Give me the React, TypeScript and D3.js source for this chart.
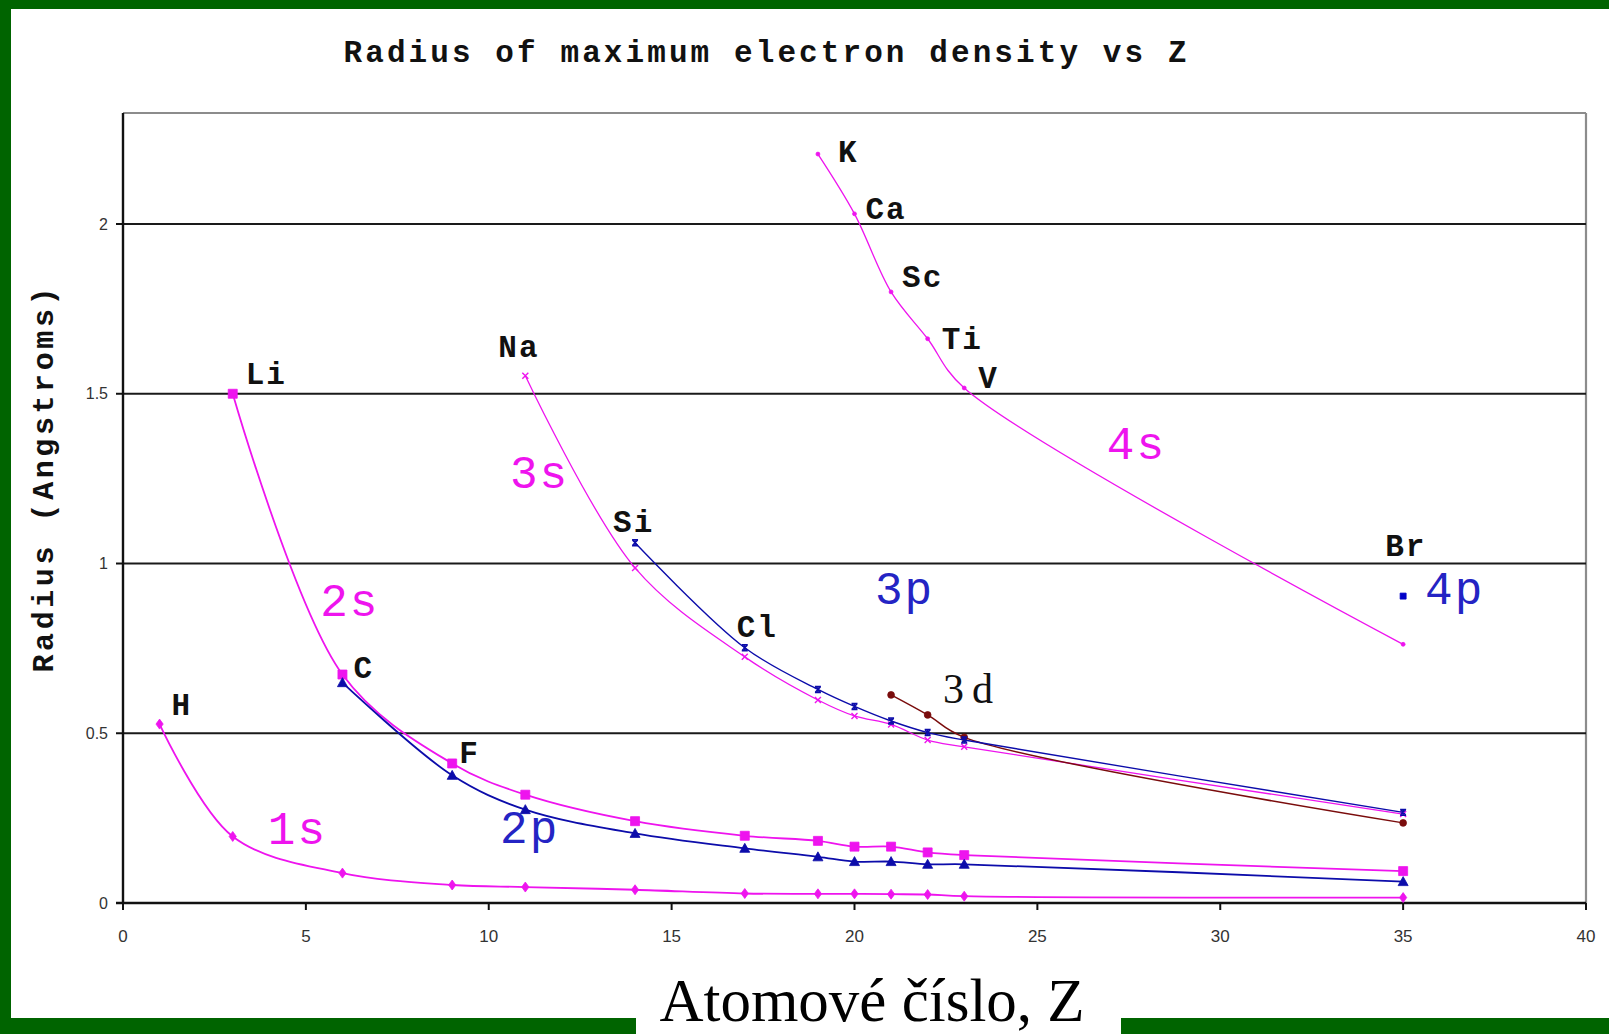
import React from "react";
import * as d3 from "d3";

// ---- chart data ----
const xTicks = [0, 5, 10, 15, 20, 25, 30, 35, 40];
const yTicks = [0, 0.5, 1, 1.5, 2];
const yGrid = [0.5, 1, 1.5, 2];

const z1s = [1, 3, 6, 9, 11, 14, 17, 19, 20, 21, 22, 23, 35];
const r1s = [0.527, 0.196, 0.088, 0.053, 0.047, 0.039, 0.028, 0.027, 0.027, 0.026, 0.025, 0.02, 0.016];

const z2s = [3, 6, 9, 11, 14, 17, 19, 20, 21, 22, 23, 35];
const r2s = [1.5, 0.673, 0.411, 0.319, 0.241, 0.198, 0.183, 0.166, 0.166, 0.149, 0.141, 0.094];

const z2p = [6, 9, 11, 14, 17, 19, 20, 21, 22, 23, 35];
const r2p = [0.649, 0.376, 0.275, 0.205, 0.161, 0.136, 0.122, 0.122, 0.114, 0.114, 0.063];

const z3s = [11, 14, 17, 19, 20, 21, 22, 23, 35];
const r3s = [1.553, 0.987, 0.725, 0.598, 0.551, 0.526, 0.48, 0.46, 0.262];

const z3p = [14, 17, 19, 20, 21, 22, 23, 35];
const r3p = [1.061, 0.752, 0.629, 0.579, 0.536, 0.502, 0.48, 0.267];

const z3d = [21, 22, 23, 35];
const r3d = [0.613, 0.554, 0.488, 0.236];

const z4s = [19, 20, 21, 22, 23, 35];
const r4s = [2.206, 2.03, 1.8, 1.662, 1.517, 0.762];

const z4p = [35];
const r4p = [0.904];

// element names, each attached to the point it marks: [name, Z, radius]
const elementNames: [string, number, number][] = [
  ["H", 1, 0.527],
  ["Li", 3, 1.5],
  ["C", 6, 0.673],
  ["F", 9, 0.411],
  ["Na", 11, 1.553],
  ["Si", 14, 1.061],
  ["Cl", 17, 0.752],
  ["K", 19, 2.206],
  ["Ca", 20, 2.03],
  ["Sc", 21, 1.8],
  ["Ti", 22, 1.662],
  ["V", 23, 1.517],
  ["Br", 35, 0.904],
];

// orbital names placed in data space: [name, Z, radius]
const orbitalNames: [string, number, number][] = [
  ["1s", 3.96, 0.174],
  ["2s", 5.39, 0.845],
  ["3s", 10.58, 1.222],
  ["2p", 10.31, 0.177],
  ["3p", 20.56, 0.88],
  ["4p", 35.6, 0.88],
  ["4s", 26.9, 1.308],
  ["3d", 22.42, 0.589],
];

// ---- styling ----
const W = 1609;
const H = 1034;
const GREEN = "#006400";
const MAGENTA = "#ee14ee";
const BLUE = "#0c0caa";
const BLUE3 = "#2424c4";
const BROWN = "#7a0c0c";

const labelOffsets: Record<string, [number, number]> = {
  H: [12, -9],
  Li: [13, -10],
  C: [11, 3],
  F: [7, 0],
  Na: [-27, -19],
  Si: [-22, -11],
  Cl: [-8, -11],
  K: [20, 8],
  Ca: [11, 5],
  Sc: [11, -5],
  Ti: [14, 10],
  V: [14, 0],
  Br: [-18, -40],
};

const orbitalColors: Record<string, string> = {
  "1s": MAGENTA,
  "2s": MAGENTA,
  "3s": MAGENTA,
  "4s": MAGENTA,
  "2p": BLUE3,
  "3p": BLUE3,
  "4p": BLUE3,
  "3d": "#111",
};

type Marker = "diamond" | "square" | "triangle" | "x" | "star" | "circle" | "dot" | "smallsquare";

const markerPath = (m: Marker): string => {
  switch (m) {
    case "diamond":
      return "M0,-5L3.6,0L0,5L-3.6,0Z";
    case "square":
      return "M-4.5,-4.5H4.5V4.5H-4.5Z";
    case "triangle":
      return "M0,-5L5,4L-5,4Z";
    case "x":
      return "M-3,-3L3,3M-3,3L3,-3";
    case "star":
      return "M-3,-3H3M-3,3H3M0,-3V3M-2.5,-2.5L2.5,2.5M-2.5,2.5L2.5,-2.5";
    case "circle":
      return d3.symbol(d3.symbolCircle, 36)() || "";
    case "dot":
      return d3.symbol(d3.symbolCircle, 12)() || "";
    case "smallsquare":
      return "M-3,-3H3V3H-3Z";
  }
};

const series = [
  { z: z1s, r: r1s, color: MAGENTA, width: 1.8, marker: "diamond" as Marker, filled: true },
  { z: z2s, r: r2s, color: MAGENTA, width: 1.8, marker: "square" as Marker, filled: true },
  { z: z2p, r: r2p, color: BLUE, width: 1.8, marker: "triangle" as Marker, filled: true },
  { z: z3s, r: r3s, color: MAGENTA, width: 1.3, marker: "x" as Marker, filled: false },
  { z: z3d, r: r3d, color: BROWN, width: 1.5, marker: "circle" as Marker, filled: true },
  { z: z3p, r: r3p, color: BLUE, width: 1.4, marker: "star" as Marker, filled: false },
  { z: z4s, r: r4s, color: MAGENTA, width: 1.3, marker: "dot" as Marker, filled: true },
  { z: z4p, r: r4p, color: "#0000c8", width: 0, marker: "smallsquare" as Marker, filled: true },
];

const MONO = "'Liberation Mono', 'DejaVu Sans Mono', monospace";
const SANS = "'Liberation Sans', Arial, sans-serif";
const SERIF = "'Liberation Serif', 'Times New Roman', serif";

export default function App() {
  const x = d3.scaleLinear().domain([0, 40]).range([123, 1586]);
  const y = d3.scaleLinear().domain([0, 2.327]).range([903, 113]);

  // centripetal Catmull-Rom keeps the smoothed curves free of loops
  const line = d3
    .line<[number, number]>()
    .x((d) => x(d[0]))
    .y((d) => y(d[1]))
    .curve(d3.curveCatmullRom.alpha(0.5));

  const [x0, x1] = x.range();
  const [y0, y1] = y.range();

  return (
    <svg
      width={W}
      height={H}
      viewBox={`0 0 ${W} ${H}`}
      style={{ position: "absolute", left: 0, top: 0, display: "block" }}
    >
      {/* slide frame */}
      <rect x={0} y={0} width={W} height={H} fill="#fff" />
      <rect x={0} y={0} width={W} height={9} fill={GREEN} />
      <rect x={0} y={0} width={11} height={H} fill={GREEN} />
      <rect x={0} y={1018} width={636} height={H - 1018} fill={GREEN} />
      <rect x={1121} y={1018} width={W - 1121} height={H - 1018} fill={GREEN} />

      {/* title */}
      <text
        x={765}
        y={62}
        textAnchor="middle"
        fontFamily={MONO}
        fontWeight="bold"
        fontSize={31}
        textLength={843}
        lengthAdjust="spacing"
        fill="#111"
      >
        Radius of maximum electron density vs Z
      </text>

      {/* y axis title */}
      <text
        transform="translate(53,480) rotate(-90)"
        textAnchor="middle"
        fontFamily={MONO}
        fontWeight="bold"
        fontSize={30}
        textLength={385}
        lengthAdjust="spacing"
        fill="#111"
      >
        Radius (Angstroms)
      </text>

      {/* plot frame */}
      <line x1={x0} x2={x1} y1={y1} y2={y1} stroke="#8c8c8c" strokeWidth={2.2} />
      <line x1={x1} x2={x1} y1={y1} y2={y0} stroke="#8c8c8c" strokeWidth={2.2} />

      {/* horizontal grid */}
      {yGrid.map((v) => (
        <line key={v} x1={x0} x2={x1} y1={y(v)} y2={y(v)} stroke="#1a1a1a" strokeWidth={2} />
      ))}

      {/* axes */}
      <line x1={x0} x2={x0} y1={y1} y2={y0} stroke="#111" strokeWidth={2.4} />
      <line x1={x0 - 7} x2={x1} y1={y0} y2={y0} stroke="#111" strokeWidth={2.4} />
      {yTicks.map((v) => (
        <g key={v}>
          <line x1={x0 - 7} x2={x0} y1={y(v)} y2={y(v)} stroke="#111" strokeWidth={2} />
          <text
            x={x0 - 15}
            y={y(v)}
            dy="0.35em"
            textAnchor="end"
            fontFamily={SANS}
            fontSize={16}
            fill="#333"
          >
            {v}
          </text>
        </g>
      ))}
      {xTicks.map((v) => (
        <g key={v}>
          <line x1={x(v)} x2={x(v)} y1={y0} y2={y0 + 7} stroke="#111" strokeWidth={2} />
          <text x={x(v)} y={y0 + 39} textAnchor="middle" fontFamily={SANS} fontSize={17} fill="#333">
            {v}
          </text>
        </g>
      ))}

      {/* orbital curves */}
      {series.map((s, i) => {
        const pts = s.z.map((z, k) => [z, s.r[k]] as [number, number]);
        return (
          <g key={i}>
            {s.width > 0 && pts.length > 1 && (
              <path d={line(pts) || ""} fill="none" stroke={s.color} strokeWidth={s.width} />
            )}
            {pts.map((p, k) => (
              <path
                key={k}
                transform={`translate(${x(p[0])},${y(p[1])})`}
                d={markerPath(s.marker)}
                fill={s.filled ? s.color : "none"}
                stroke={s.color}
                strokeWidth={s.filled ? 0.8 : 1.4}
              />
            ))}
          </g>
        );
      })}

      {/* element names */}
      {elementNames.map(([name, z, r]) => {
        const [dx, dy] = labelOffsets[name];
        return (
          <text
            key={name}
            x={x(z) + dx}
            y={y(r) + dy}
            fontFamily={MONO}
            fontWeight="bold"
            fontSize={31}
            letterSpacing={2}
            fill="#111"
          >
            {name}
          </text>
        );
      })}

      {/* orbital names */}
      {orbitalNames.map(([name, z, r]) => (
        <text
          key={name}
          x={x(z)}
          y={y(r)}
          fontFamily={name === "3d" ? SERIF : MONO}
          fontSize={name === "3d" ? 42 : 46}
          letterSpacing={name === "3d" ? 8 : 2}
          fill={orbitalColors[name]}
        >
          {name}
        </text>
      ))}

      {/* x axis caption */}
      <text x={872} y={1021} textAnchor="middle" fontFamily={SERIF} fontSize={61} fill="#000">
        Atomové číslo, Z
      </text>
    </svg>
  );
}
